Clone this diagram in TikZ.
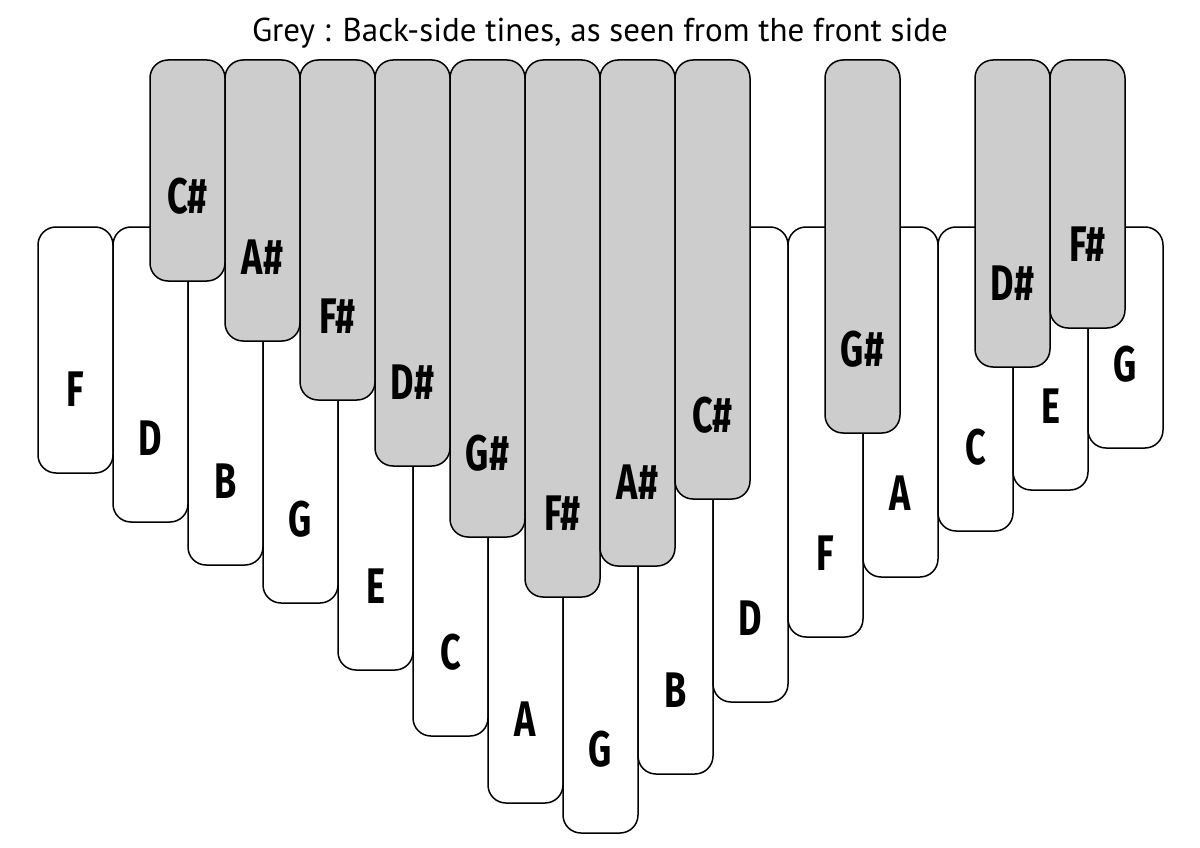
\documentclass[tikz,border=0pt]{standalone}
\usepackage{fontspec}
\newfontfamily\titlefont{PT Sans}
\newfontfamily\notefont[FakeStretch=0.72]{Fira Sans}
\definecolor{tinegrey}{RGB}{205,205,205}
\begin{document}
\begin{tikzpicture}[
  x=1pt, y=-1pt,
  whitetine/.style={draw=black, fill=white, line width=1.5pt, rounded corners=18pt},
  greytine/.style={draw=black, fill=tinegrey, line width=1.5pt, rounded corners=18pt},
  tinelabel/.style={anchor=base, inner sep=0pt, font=\notefont\bfseries\fontsize{50}{50}\selectfont}
]
\useasboundingbox (0,0) rectangle (1200,848);

\node[anchor=base, font=\titlefont\fontsize{33}{33}\selectfont] (title) at (600,42) {Grey : Back-side tines, as seen from the front side};

% front-side tines
\draw[whitetine] (38,227) rectangle (113,473);
\draw[whitetine] (113,227) rectangle (188,522);
\draw[whitetine] (188,227) rectangle (263,565);
\draw[whitetine] (263,227) rectangle (338,603);
\draw[whitetine] (338,227) rectangle (413,670);
\draw[whitetine] (413,227) rectangle (488,736);
\draw[whitetine] (488,227) rectangle (563,803);
\draw[whitetine] (563,227) rectangle (638,833);
\draw[whitetine] (638,227) rectangle (713,774);
\draw[whitetine] (713,227) rectangle (788,702);
\draw[whitetine] (788,227) rectangle (863,637);
\draw[whitetine] (863,227) rectangle (938,577);
\draw[whitetine] (938,227) rectangle (1013,531);
\draw[whitetine] (1013,227) rectangle (1088,490);
\draw[whitetine] (1088,227) rectangle (1163,448);

\node[tinelabel] (w1) at (75.5,406) {F};
\node[tinelabel] (w2) at (150.5,455) {D};
\node[tinelabel] (w3) at (225.5,498) {B};
\node[tinelabel] (w4) at (300.5,536) {G};
\node[tinelabel] (w5) at (375.5,603) {E};
\node[tinelabel] (w6) at (450.5,669) {C};
\node[tinelabel] (w7) at (525.5,736) {A};
\node[tinelabel] (w8) at (600.5,766) {G};
\node[tinelabel] (w9) at (675.5,707) {B};
\node[tinelabel] (w10) at (750.5,635) {D};
\node[tinelabel] (w11) at (825.5,570) {F};
\node[tinelabel] (w12) at (900.5,510) {A};
\node[tinelabel] (w13) at (975.5,464) {C};
\node[tinelabel] (w14) at (1050.5,423) {E};
\node[tinelabel] (w15) at (1125.5,381) {G};

% back-side tines
\draw[greytine] (150,60) rectangle (225,281);
\draw[greytine] (225,60) rectangle (300,341);
\draw[greytine] (300,60) rectangle (375,400);
\draw[greytine] (375,60) rectangle (450,466);
\draw[greytine] (450,60) rectangle (525,537);
\draw[greytine] (525,60) rectangle (600,597);
\draw[greytine] (600,60) rectangle (675,566);
\draw[greytine] (675,60) rectangle (750,499);
\draw[greytine] (825,60) rectangle (900,433);
\draw[greytine] (975,60) rectangle (1050,367);
\draw[greytine] (1050,60) rectangle (1125,328);

\node[tinelabel] (g1) at (187.5,214) {C\#};
\node[tinelabel] (g2) at (262.5,274) {A\#};
\node[tinelabel] (g3) at (337.5,333) {F\#};
\node[tinelabel] (g4) at (412.5,399) {D\#};
\node[tinelabel] (g5) at (487.5,470) {G\#};
\node[tinelabel] (g6) at (562.5,530) {F\#};
\node[tinelabel] (g7) at (637.5,499) {A\#};
\node[tinelabel] (g8) at (712.5,432) {C\#};
\node[tinelabel] (g9) at (862.5,366) {G\#};
\node[tinelabel] (g10) at (1012.5,300) {D\#};
\node[tinelabel] (g11) at (1087.5,261) {F\#};
\end{tikzpicture}
\end{document}
